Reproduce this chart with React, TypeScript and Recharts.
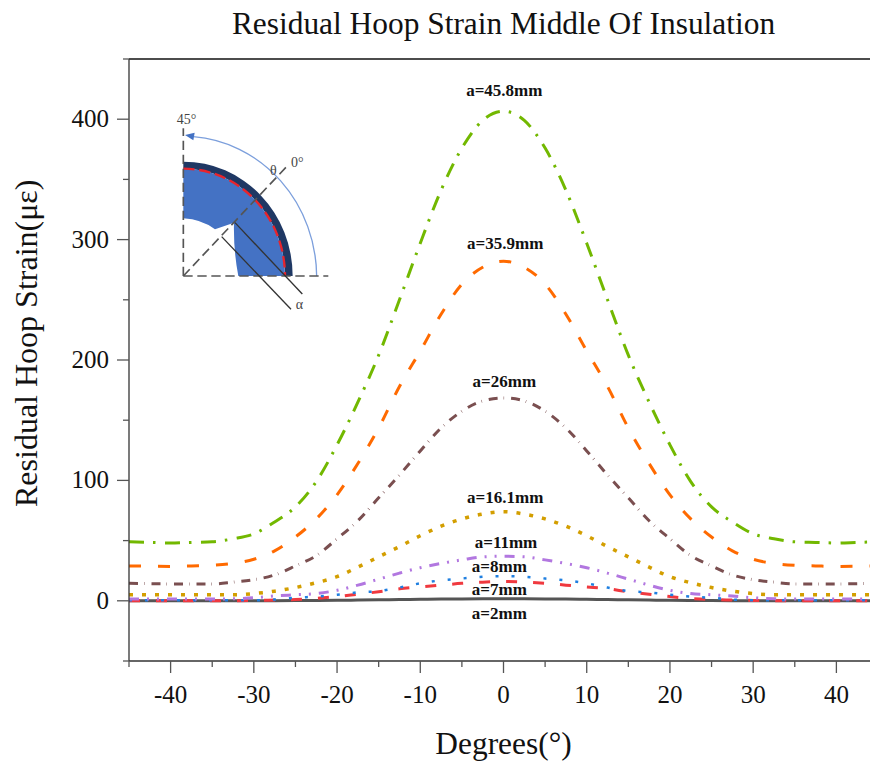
import { LineChart, Line, XAxis, YAxis, ReferenceDot, ReferenceLine } from 'recharts';

const degrees = [
  -45, -42.5, -40, -37.5, -35, -32.5, -30, -27.5, -25, -22.5, -20, -17.5, -15, -12.5, -10, -7.5, -5, -2.5, 0,
  2.5, 5, 7.5, 10, 12.5, 15, 17.5, 20, 22.5, 25, 27.5, 30, 32.5, 35, 37.5, 40, 42.5, 45,
];
const a458 = [
  49, 48.5, 48, 48.5, 49, 51.5, 55.6, 65.5, 78, 99, 129.5, 165, 204, 250, 297, 341, 376, 399, 406.6,
  399, 376, 341, 297, 250, 204, 165, 129.5, 99, 78, 65.5, 55.6, 51.5, 49, 48.5, 48, 48.5, 49,
];
const a359 = [
  29, 28.7, 28.5, 29, 29.5, 31, 34.5, 41.5, 53, 68, 88, 114, 143.5, 178, 207.5, 238, 263, 277, 282,
  277, 263, 238, 207.5, 178, 143.5, 114, 88, 68, 53, 41.5, 34.5, 31, 29.5, 29, 28.5, 28.7, 29,
];
const a26 = [
  14.5, 14.2, 14, 14, 14, 15.5, 17.5, 21.5, 29, 37.5, 51.5, 66.5, 85.5, 104.5, 124.5, 143.5, 157.5, 166, 168.5,
  166, 157.5, 143.5, 124.5, 104.5, 85.5, 66.5, 51.5, 37.5, 29, 21.5, 17.5, 15.5, 14, 14, 14, 14.2, 14.5,
];
const a161 = [
  5, 5, 5, 5, 5, 5, 6, 8, 11, 15, 20, 28, 36.5, 45, 54, 62, 68, 72, 74,
  72, 68, 62, 54, 45, 36.5, 28, 20, 15, 11, 8, 6, 5, 5, 5, 5, 5, 5,
];
const a11 = [
  1.5, 1.5, 1.5, 1.5, 1.5, 1.7, 2.5, 4, 5, 6, 8.7, 13, 18, 23, 27.5, 31, 34, 36.5, 37,
  36.5, 34, 31, 27.5, 23, 18, 13, 8.7, 6, 5, 4, 2.5, 1.7, 1.5, 1.5, 1.5, 1.5, 1.5,
];
const a8 = [
  0.5, 0.5, 0.5, 0.5, 0.5, 0.5, 0.5, 1, 2.5, 3.5, 5, 7, 8, 11, 14.5, 17, 18.5, 20, 20.5,
  20, 18.5, 17, 14.5, 11, 8, 7, 5, 3.5, 2.5, 1, 0.5, 0.5, 0.5, 0.5, 0.5, 0.5, 0.5,
];
const a7 = [
  0, 0, 0, 0, 0, 0.1, 0.3, 0.6, 1, 2, 3.5, 5.5, 7.5, 10, 11.5, 13, 14.5, 15.5, 16,
  15.5, 14.5, 13, 11.5, 10, 7.5, 5.5, 3.5, 2, 1, 0.6, 0.3, 0.1, 0, 0, 0, 0, 0,
];
const a2 = [
  0, 0, 0, 0, 0, 0, 0, 0.1, 0.2, 0.3, 0.4, 0.6, 0.8, 1, 1.2, 1.4, 1.5, 1.6, 1.7,
  1.6, 1.5, 1.4, 1.2, 1, 0.8, 0.6, 0.4, 0.3, 0.2, 0.1, 0, 0, 0, 0, 0, 0, 0,
];

const xTicks = [-45, -40, -35, -30, -25, -20, -15, -10, -5, 0, 5, 10, 15, 20, 25, 30, 35, 40, 45];
const yTicks = [-50, 0, 50, 100, 150, 200, 250, 300, 350, 400, 450];

const curveLabels = [
  { text: 'a=45.8mm', x: 0.1, y: 424 },
  { text: 'a=35.9mm', x: 0.2, y: 297 },
  { text: 'a=26mm', x: 0.1, y: 183 },
  { text: 'a=16.1mm', x: 0.2, y: 86 },
  { text: 'a=11mm', x: 0.3, y: 49 },
  { text: 'a=8mm', x: -0.5, y: 29 },
  { text: 'a=7mm', x: -0.5, y: 10 },
  { text: 'a=2mm', x: -0.5, y: -10 },
];

const data = degrees.map((d, i) => ({
  d,
  a458: a458[i],
  a359: a359[i],
  a26: a26[i],
  a161: a161[i],
  a11: a11[i],
  a8: a8[i],
  a7: a7[i],
  a2: a2[i],
}));

const SERIF = '"Liberation Serif", serif';
const AXIS = '#333';

const XTick = ({ x, y, payload }: any) => {
  const major = payload.value % 10 === 0;
  return (
    <g>
      <line x1={x} x2={x} y1={y} y2={y + (major ? 12 : 6)} stroke="#555" strokeWidth={1.3} />
      {major && (
        <text x={x} y={y + 42} textAnchor="middle" fontFamily={SERIF} fontSize={25} fill="#111">
          {payload.value}
        </text>
      )}
    </g>
  );
};

const YTick = ({ x, y, payload }: any) => {
  const major = payload.value % 100 === 0;
  return (
    <g>
      <line x1={x} x2={x - (major ? 12 : 6)} y1={y} y2={y} stroke="#555" strokeWidth={1.3} />
      {major && (
        <text x={x - 20} y={y + 8} textAnchor="end" fontFamily={SERIF} fontSize={25} fill="#111">
          {payload.value}
        </text>
      )}
    </g>
  );
};

// the little section sketch, drawn in its own space
const Inset = () => (
  <svg width={870} height={767} style={{ position: 'absolute', left: 0, top: 0 }}>
    <g transform="translate(130 90) scale(0.3333)">
      <path d="M160 215 A328 343 0 0 1 488 558 L465 558 A305 322 0 0 0 160 236 Z" fill="#1f3864" />
      <path
        d="M160 236 A305 322 0 0 1 465 558 L325 558 Q310 480 312 398 L255 418 Q215 388 160 385 Z"
        fill="#4472c4"
      />
      <path d="M160 236 A305 322 0 0 1 465 558" fill="none" stroke="#e8242c" strokeWidth={7} strokeDasharray="34 14" />
      <path d="M560 558 A400 423 0 0 0 190 140" fill="none" stroke="#7c9fdc" strokeWidth={4} />
      <path d="M165 135 L194 128 L190 151 Z" fill="#4472c4" />
      <g stroke="#555" strokeWidth={5} strokeDasharray="28 14" fill="none">
        <line x1={160} y1={558} x2={160} y2={115} />
        <line x1={160} y1={558} x2={595} y2={558} />
        <line x1={160} y1={558} x2={468} y2={232} />
      </g>
      <line x1={275} y1={440} x2={483} y2={658} stroke="#333" strokeWidth={4} />
      <line x1={315} y1={398} x2={517} y2={612} stroke="#333" strokeWidth={4} />
      <g fontFamily={SERIF} fontSize={42} fill="#444">
        <text x={140} y={102}>45°</text>
        <text x={420} y={256}>θ</text>
        <text x={483} y={232}>0°</text>
        <text x={497} y={657}>α</text>
      </g>
    </g>
  </svg>
);

export default function App() {
  return (
    <div style={{ position: 'absolute', left: 0, top: 0, width: 870, height: 767, overflow: 'hidden', background: '#fff' }}>
      <div
        style={{
          position: 'absolute',
          left: 0,
          width: 1007,
          top: 6,
          textAlign: 'center',
          fontFamily: SERIF,
          fontSize: 31.4,
          color: '#111',
          whiteSpace: 'nowrap',
        }}
      >
        Residual Hoop Strain Middle Of Insulation
      </div>
      <LineChart width={900} height={767} data={data} margin={{ top: 59, right: 22, bottom: 0, left: 0 }}>
        <XAxis
          dataKey="d"
          type="number"
          domain={[-45, 45]}
          ticks={xTicks}
          interval={0}
          height={106}
          tick={<XTick />}
          tickLine={false}
          tickSize={0}
          tickMargin={0}
          axisLine={{ stroke: AXIS, strokeWidth: 1.3 }}
          label={{ value: 'Degrees(°)', position: 'insideBottom', offset: 13, fontFamily: SERIF, fontSize: 31.4, fill: '#111' }}
        />
        <YAxis
          type="number"
          domain={[-50, 450]}
          ticks={yTicks}
          interval={0}
          width={129}
          tick={<YTick />}
          tickLine={false}
          tickSize={0}
          tickMargin={0}
          axisLine={{ stroke: AXIS, strokeWidth: 1.3 }}
          label={{
            value: 'Residual Hoop Strain(με)',
            angle: -90,
            position: 'insideLeft',
            dy: 147,
            dx: 21,
            fontFamily: SERIF,
            fontSize: 32,
            fill: '#111',
          }}
        />
        <ReferenceLine y={450} stroke="#111" strokeWidth={1.5} />
        <Line dataKey="a2" type="monotone" stroke="#555" strokeWidth={3} dot={false} isAnimationActive={false} />
        <Line dataKey="a7" type="monotone" stroke="#f0393f" strokeWidth={3} strokeDasharray="11 16" dot={false} isAnimationActive={false} />
        <Line dataKey="a8" type="monotone" stroke="#1f7fe0" strokeWidth={2.5} strokeDasharray="3 13" dot={false} isAnimationActive={false} />
        <Line dataKey="a11" type="monotone" stroke="#b277e0" strokeWidth={3} strokeDasharray="10 8 2 8 2 8" dot={false} isAnimationActive={false} />
        <Line dataKey="a161" type="monotone" stroke="#d39e00" strokeWidth={3.5} strokeDasharray="4 9" dot={false} isAnimationActive={false} />
        <Line dataKey="a26" type="monotone" stroke="#7a4f50" strokeWidth={3} strokeDasharray="9 6 0.5 7" dot={false} isAnimationActive={false} />
        <Line dataKey="a359" type="monotone" stroke="#ff6a00" strokeWidth={3} strokeDasharray="12 17" dot={false} isAnimationActive={false} />
        <Line dataKey="a458" type="monotone" stroke="#72b800" strokeWidth={3} strokeDasharray="15 9 2.5 9.5" dot={false} isAnimationActive={false} />
        {curveLabels.map((l) => (
          <ReferenceDot
            key={l.text}
            x={l.x}
            y={l.y}
            r={0}
            stroke="none"
            fill="none"
            label={{ value: l.text, position: 'center', fontFamily: SERIF, fontSize: 17, fontWeight: 'bold', fill: '#111' }}
          />
        ))}
      </LineChart>
      <Inset />
    </div>
  );
}
